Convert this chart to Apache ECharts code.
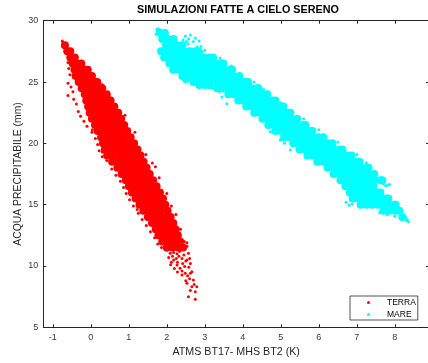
<!DOCTYPE html>
<html>
<head>
<meta charset="utf-8">
<title>Simulazioni fatte a cielo sereno</title>
<script src="https://cdn.jsdelivr.net/npm/echarts@6/dist/echarts.min.js"></script>
<style>
  html, body { margin: 0; padding: 0; background: #fff; }
  #chart { width: 428px; height: 363px; }
</style>
</head>
<body>
<div id="chart"></div>
<script>
// Tick positions
const xTicks = [-1, 0, 1, 2, 3, 4, 5, 6, 7, 8];

// TERRA: dense body, one row per precipitable-water level: [y, x1, x2, ...]
const terraRows = [
  [28.0, -0.68],
  [27.5, -0.62, -0.54],
  [27.0, -0.54, -0.42],
  [26.5, -0.48, -0.36, -0.25],
  [26.0, -0.43, -0.29, -0.15, -0.08],
  [25.5, -0.40, -0.26, -0.12, 0.03],
  [25.0, -0.32, -0.17, -0.02, 0.13, 0.17],
  [24.5, -0.24, -0.09, 0.06, 0.21, 0.30],
  [24.0, -0.16, -0.01, 0.14, 0.29, 0.42],
  [23.5, -0.12, 0.03, 0.18, 0.33, 0.48, 0.52],
  [23.0, -0.07, 0.08, 0.23, 0.38, 0.53, 0.62],
  [22.5, -0.03, 0.12, 0.27, 0.42, 0.57, 0.72],
  [22.0, 0.03, 0.18, 0.33, 0.48, 0.63, 0.80],
  [21.5, 0.11, 0.26, 0.41, 0.56, 0.71, 0.88],
  [21.0, 0.18, 0.33, 0.48, 0.63, 0.78, 0.96],
  [20.5, 0.27, 0.42, 0.57, 0.72, 0.87, 1.05],
  [20.0, 0.32, 0.47, 0.62, 0.77, 0.92, 1.07, 1.14],
  [19.5, 0.37, 0.52, 0.67, 0.82, 0.97, 1.12, 1.23],
  [19.0, 0.43, 0.58, 0.73, 0.88, 1.03, 1.18, 1.31],
  [18.5, 0.56, 0.71, 0.86, 1.01, 1.16, 1.31, 1.39],
  [18.0, 0.70, 0.85, 1.00, 1.15, 1.30, 1.47],
  [17.5, 0.81, 0.96, 1.11, 1.26, 1.41, 1.55],
  [17.0, 0.92, 1.07, 1.22, 1.37, 1.52, 1.64],
  [16.5, 1.00, 1.15, 1.30, 1.45, 1.60, 1.73],
  [16.0, 1.08, 1.23, 1.38, 1.53, 1.68, 1.82],
  [15.5, 1.18, 1.33, 1.48, 1.63, 1.78, 1.90],
  [15.0, 1.28, 1.43, 1.58, 1.73, 1.88, 1.96],
  [14.5, 1.38, 1.53, 1.68, 1.83, 2.02],
  [14.0, 1.50, 1.65, 1.80, 1.95, 2.10],
  [13.5, 1.61, 1.76, 1.91, 2.06, 2.17],
  [13.0, 1.71, 1.86, 2.01, 2.16, 2.23],
  [12.5, 1.78, 1.93, 2.08, 2.23, 2.29],
  [12.0, 1.88, 2.03, 2.18, 2.35],
  [11.5, 2.00, 2.15, 2.30, 2.43]
];

// TERRA: scattered single points (tip, edges, low-water tail): [x, y]
const terraSparse = [
  [-0.75, 28.35], [-0.73, 28.2], [-0.71, 28.05], [-0.74, 27.9],
  [-0.62, 27.3], [-0.60, 26.6], [-0.58, 26.1], [-0.55, 25.6], [-0.60, 24.9],
  [-0.52, 24.6], [-0.47, 24.2], [-0.60, 23.9], [-0.45, 23.6], [-0.38, 23.2],
  [-0.33, 22.6], [-0.27, 22.2], [-0.18, 21.8], [-0.10, 21.4], [0.03, 20.9],
  [0.04, 21.1], [0.12, 20.4], [0.18, 19.9], [0.30, 19.3], [0.22, 19.4],
  [0.30, 18.9], [0.42, 18.6], [0.55, 17.9], [0.66, 17.4], [0.78, 16.9],
  [0.86, 16.4], [0.93, 15.9], [1.02, 15.4], [1.12, 14.9], [1.22, 14.6],
  [1.25, 14.3], [1.35, 13.8], [1.46, 13.3], [1.57, 12.8], [1.68, 12.3],
  [1.76, 11.8], [1.86, 11.5],
  [0.30, 24.8], [0.56, 23.6], [0.90, 22.3], [1.16, 20.9], [1.45, 19.1],
  [1.62, 18.4], [1.70, 18.1], [1.80, 17.2], [2.00, 15.9], [2.12, 14.9],
  [2.24, 14.2], [2.36, 13.0], [2.46, 12.0], [2.53, 11.6],
  [2.00, 11.3], [2.09, 11.03], [2.18, 11.1], [2.27, 11.0], [2.34, 11.2],
  [2.46, 11.6], [2.53, 11.9], [2.40, 10.6], [2.57, 11.03], [2.05, 10.7],
  [2.15, 10.8], [2.25, 10.6], [2.32, 10.8], [2.45, 10.9], [2.50, 10.4],
  [2.60, 10.6], [2.18, 10.49], [2.53, 10.49], [2.12, 10.3], [2.28, 10.3],
  [2.42, 10.2], [2.62, 10.2], [2.27, 10.08], [2.35, 9.81], [2.47, 9.95],
  [2.58, 9.9], [2.40, 9.6], [2.66, 9.53], [2.485, 9.40], [2.62, 9.40],
  [2.55, 9.2], [2.40, 9.26], [2.70, 8.86], [2.60, 8.95], [2.50, 8.8],
  [2.53, 8.59], [2.66, 8.31], [2.79, 8.31], [2.72, 8.5], [2.75, 7.90],
  [2.62, 8.0], [2.57, 7.49], [2.75, 7.28], [2.10, 10.1], [2.20, 9.8], [2.28, 9.5]
];

// MARE: dense body, one row per precipitable-water level: [y, x1, x2, ...]
const mareRows = [
  [29.0, 1.82, 1.95],
  [28.5, 1.88, 2.03, 2.18],
  [28.0, 1.98, 2.13, 2.28, 2.41],
  [27.5, 1.85, 2.00, 2.15, 2.30, 2.45, 2.60, 2.75, 2.83],
  [27.0, 1.93, 2.08, 2.23, 2.38, 2.53, 2.68, 2.83, 2.98, 3.13, 3.22],
  [26.5, 2.07, 2.22, 2.37, 2.52, 2.67, 2.82, 2.97, 3.12, 3.27, 3.42, 3.49],
  [26.0, 2.17, 2.32, 2.47, 2.62, 2.77, 2.92, 3.07, 3.22, 3.37, 3.52, 3.67, 3.72],
  [25.5, 2.41, 2.56, 2.71, 2.86, 3.01, 3.16, 3.31, 3.46, 3.61, 3.76, 3.91],
  [25.25, 2.50],
  [25.0, 2.70, 2.85, 3.00, 3.15, 3.30, 3.45, 3.60, 3.75, 3.90, 4.05, 4.14],
  [24.75, 2.85, 3.00, 3.12],
  [24.5, 3.33, 3.48, 3.63, 3.78, 3.93, 4.08, 4.23, 4.38, 4.41],
  [24.0, 3.62, 3.77, 3.92, 4.07, 4.22, 4.37, 4.52, 4.64],
  [23.5, 3.88, 4.03, 4.18, 4.33, 4.48, 4.63, 4.78, 4.86],
  [23.0, 4.09, 4.24, 4.39, 4.54, 4.69, 4.84, 4.99, 5.07],
  [22.5, 4.30, 4.45, 4.60, 4.75, 4.90, 5.05, 5.20, 5.25],
  [22.0, 4.52, 4.67, 4.82, 4.97, 5.12, 5.27, 5.43],
  [21.5, 4.67, 4.82, 4.97, 5.12, 5.27, 5.42, 5.57, 5.65],
  [21.0, 4.86, 5.01, 5.16, 5.31, 5.46, 5.61, 5.76, 5.83],
  [20.5, 5.09, 5.24, 5.39, 5.54, 5.69, 5.84, 5.99, 6.12],
  [20.0, 5.33, 5.48, 5.63, 5.78, 5.93, 6.08, 6.23, 6.36],
  [19.5, 5.49, 5.64, 5.79, 5.94, 6.09, 6.24, 6.39, 6.54, 6.62],
  [19.0, 5.70, 5.85, 6.00, 6.15, 6.30, 6.45, 6.60, 6.75, 6.86],
  [18.5, 5.96, 6.11, 6.26, 6.41, 6.56, 6.71, 6.86, 7.01, 7.07],
  [18.0, 6.23, 6.38, 6.53, 6.68, 6.83, 6.98, 7.13, 7.28, 7.31],
  [17.5, 6.39, 6.54, 6.69, 6.84, 6.99, 7.14, 7.29, 7.46],
  [17.0, 6.57, 6.72, 6.87, 7.02, 7.17, 7.32, 7.47, 7.62, 7.67],
  [16.5, 6.70, 6.85, 7.00, 7.15, 7.30, 7.44],
  [16.0, 6.81, 6.96, 7.11, 7.26, 7.41, 7.56, 7.62],
  [15.5, 6.89, 7.04, 7.19, 7.34, 7.49, 7.64, 7.79, 7.83],
  [15.0, 7.10, 7.25, 7.40, 7.55, 7.70, 7.85, 8.00, 8.02],
  [14.5, 7.70, 7.85, 8.00, 8.12],
  [14.0, 8.20]
];

// MARE: scattered single points (tips, loose cluster, edges): [x, y]
const mareSparse = [
  [1.74, 29.3], [1.78, 29.35], [1.84, 29.25], [1.76, 29.1], [1.72, 28.9],
  [2.49, 28.75], [2.62, 28.83], [2.75, 28.59], [2.56, 28.10], [2.80, 27.85],
  [2.93, 27.44], [2.67, 27.6], [2.43, 28.43], [2.85, 28.35], [2.70, 28.3],
  [2.58, 28.5], [2.90, 27.9], [3.00, 27.6], [2.52, 28.3],
  [3.39, 24.2], [3.45, 23.78], [3.58, 23.23], [4.72, 20.95], [4.99, 20.27],
  [5.10, 20.0], [5.25, 19.46], [6.72, 15.2], [6.80, 14.95], [6.88, 15.05],
  [7.60, 14.35], [7.80, 14.2], [8.00, 14.05], [8.15, 13.9], [2.20, 25.8],
  [2.45, 25.3], [2.75, 24.85], [3.20, 24.5],
  [3.40, 26.95], [3.70, 26.3], [4.30, 25.0], [4.55, 24.4], [5.00, 23.3],
  [5.60, 22.0], [6.00, 21.1], [6.50, 20.1], [7.00, 19.1], [7.25, 18.4], [7.50, 17.6],
  [7.76, 16.55], [7.82, 16.6], [7.86, 16.65], [7.70, 16.7],
  [8.30, 13.7], [8.36, 13.6], [8.33, 13.8], [8.25, 13.85], [8.28, 14.0]
];

const expandRows = rows => rows.flatMap(([y, ...xs]) => xs.map(x => [x, y]));

const FONT = '"Liberation Sans", Arial, Helvetica, sans-serif';
const AXIS_COLOR = '#262626';
const RED = '#ff0000';
const CYAN = '#00ffff';

const chart = echarts.init(document.getElementById('chart'), null, { renderer: 'canvas' });

const frameAxis = {
  type: 'value',
  axisLine: { show: true, onZero: false, lineStyle: { color: AXIS_COLOR, width: 1 } },
  axisTick: { show: true, inside: true, length: 3, lineStyle: { color: AXIS_COLOR, width: 1 } },
  splitLine: { show: false }
};

chart.setOption({
  animation: false,
  backgroundColor: '#ffffff',
  textStyle: { fontFamily: FONT },
  title: {
    text: 'SIMULAZIONI FATTE A CIELO SERENO',
    left: 137,
    top: 5,
    padding: 0,
    textStyle: { fontFamily: FONT, fontSize: 10.8, fontWeight: 'bold', color: '#000' }
  },
  grid: {
    left: 43.3, top: 20.7, right: -1, bottom: 35.7,
    containLabel: false, outerBoundsMode: 'none'
  },
  legend: {
    data: ['TERRA', 'MARE'],
    orient: 'vertical',
    left: 350,
    top: 296,
    padding: [1, 2, 0, 17],
    itemGap: 1,
    itemWidth: 3,
    itemHeight: 3,
    icon: 'circle',
    selectedMode: false,
    backgroundColor: '#fff',
    borderColor: AXIS_COLOR,
    borderWidth: 0.8,
    borderRadius: 0,
    textStyle: { fontFamily: FONT, fontSize: 8.5, color: '#000', lineHeight: 11, padding: [0, 0, 0, 12] }
  },
  xAxis: [
    Object.assign({}, frameAxis, {
      position: 'bottom',
      min: -1.25, max: 8.9,
      axisTick: Object.assign({}, frameAxis.axisTick, { customValues: xTicks }),
      axisLabel: { customValues: xTicks, fontFamily: FONT, fontSize: 9, color: '#3a3a3a', margin: 6 },
      name: 'ATMS BT17- MHS BT2 (K)',
      nameLocation: 'middle',
      nameGap: 19,
      nameMoveOverlap: false,
      nameTextStyle: { fontFamily: FONT, fontSize: 10.7, color: '#262626' }
    }),
    Object.assign({}, frameAxis, {
      position: 'top',
      min: -1.25, max: 8.9,
      axisTick: Object.assign({}, frameAxis.axisTick, { customValues: xTicks }),
      axisLabel: { show: false }
    })
  ],
  yAxis: [
    Object.assign({}, frameAxis, {
      position: 'left',
      min: 5, max: 30, interval: 5,
      axisLabel: { fontFamily: FONT, fontSize: 9, color: '#3a3a3a', margin: 5 },
      name: 'ACQUA PRECIPITABILE (mm)',
      nameLocation: 'middle',
      nameGap: 20,
      nameMoveOverlap: false,
      nameTextStyle: { fontFamily: FONT, fontSize: 10.4, color: '#262626' }
    }),
    Object.assign({}, frameAxis, {
      position: 'right',
      min: 5, max: 30, interval: 5,
      axisLabel: { show: false }
    })
  ],
  series: [
    {
      type: 'scatter', name: 'TERRA', data: expandRows(terraRows),
      symbol: 'circle', symbolSize: 8, itemStyle: { color: RED, opacity: 1 }, silent: true
    },
    {
      type: 'scatter', name: 'TERRA', data: terraSparse,
      symbol: 'circle', symbolSize: 3, itemStyle: { color: RED, opacity: 1 }, silent: true
    },
    {
      type: 'scatter', name: 'MARE', data: expandRows(mareRows),
      symbol: 'circle', symbolSize: 8, itemStyle: { color: CYAN, opacity: 1 }, silent: true
    },
    {
      type: 'scatter', name: 'MARE', data: mareSparse,
      symbol: 'circle', symbolSize: 3, itemStyle: { color: CYAN, opacity: 1 }, silent: true
    }
  ]
});
</script>
</body>
</html>
